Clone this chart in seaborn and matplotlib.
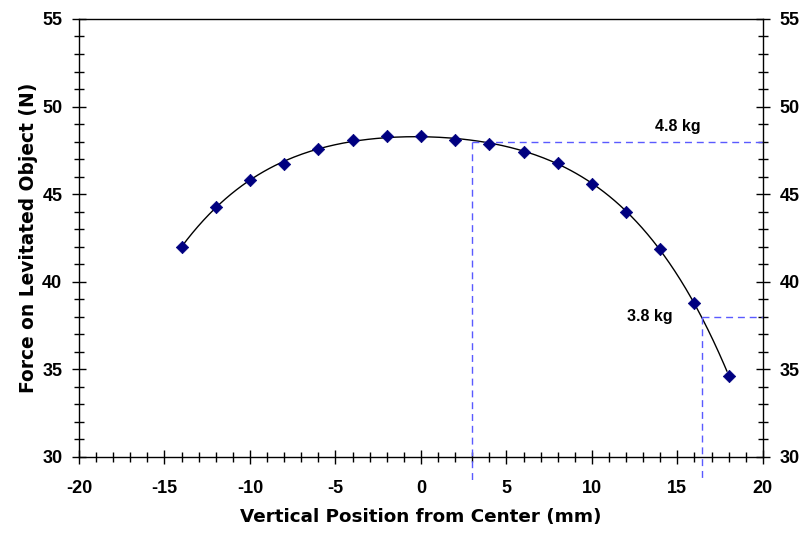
import matplotlib as mtl
mtl.use('Agg')
import numpy as np
import pandas as pd
import seaborn as sns
import matplotlib.pyplot as plt
import matplotlib.ticker as tic

position = [-14, -12, -10, -8, -6, -4, -2, 0, 2, 4, 6, 8, 10, 12, 14, 16, 18]
force = [42.0, 44.25, 45.8, 46.73, 47.58, 48.08, 48.33, 48.33, 48.1, 47.85,
         47.43, 46.76, 45.6, 43.97, 41.87, 38.77, 34.6]

# mass marker lines: (label, force level, position where curve crosses)
mass_labels = ['4.8 kg', '3.8 kg']
mass_force = [48.0, 38.0]
mass_pos = [3.0, 16.45]

sns.set_theme(style='white')
plt.rcParams['font.family'] = ['Liberation Sans', 'DejaVu Sans']
plt.rcParams['font.weight'] = 'bold'
plt.rcParams['text.color'] = 'black'
plt.rcParams['axes.labelcolor'] = 'black'
plt.rcParams['xtick.color'] = 'black'
plt.rcParams['ytick.color'] = 'black'
plt.rcParams['axes.unicode_minus'] = False

df = pd.DataFrame({'pos': position, 'force': force})

fig = plt.figure(figsize=(8.03, 5.35), dpi=100)
ax = fig.add_axes([0.0984, 0.1464, 0.8516, 0.8181])

# polynomial trendline through the data
coef = np.polyfit(df['pos'], df['force'], 4)
xs = np.linspace(df['pos'].min(), 17.9, 200)
sns.lineplot(x=xs, y=np.polyval(coef, xs), color='black', linewidth=1.0, ax=ax)
sns.scatterplot(data=df, x='pos', y='force', marker='D', s=40, color='#000080',
                edgecolor='#000080', linewidth=0.5, ax=ax, zorder=3)

dash = dict(color='#5a5aff', linewidth=1.0, linestyle=(0, (5, 3.5)), clip_on=False)
for lab, f, p in zip(mass_labels, mass_force, mass_pos):
    ax.plot([p, 20], [f, f], **dash)
    ax.plot([p, p], [f, 28.67], **dash)
ax.text(15.0, 48.84, mass_labels[0], fontsize=11.5, fontweight='bold', ha='center', va='center')
ax.text(13.4, 37.98, mass_labels[1], fontsize=11.5, fontweight='bold', ha='center', va='center')

ax.set_xlim(-20, 20)
ax.set_ylim(30, 55)
ax.xaxis.set_major_locator(tic.MultipleLocator(5))
ax.xaxis.set_minor_locator(tic.MultipleLocator(1))
ax.yaxis.set_major_locator(tic.MultipleLocator(5))
ax.yaxis.set_minor_locator(tic.MultipleLocator(1))
ax.tick_params(which='both', direction='inout', color='black', width=1,
               left=True, right=True, bottom=True, top=False,
               labelright=True, labelsize=13)
ax.tick_params(which='major', length=10)
ax.tick_params(which='minor', length=7)
ax.tick_params(axis='x', pad=12)
ax.tick_params(axis='y', pad=7)
for lbl in ax.get_xticklabels() + ax.get_yticklabels():
    lbl.set_fontweight('bold')
for s in ax.spines.values():
    s.set_color('black')
    s.set_linewidth(1.0)

# axis titles are wider than Arial in the source, DejaVu bold fits their extent
ax.set_xlabel('Vertical Position from Center (mm)', fontsize=13.2, fontweight='bold',
              family='DejaVu Sans', labelpad=8)
ax.set_ylabel('Force on Levitated Object (N)', fontsize=13.4, fontweight='bold',
              family='DejaVu Sans', labelpad=3)

fig.savefig('out.png', dpi=100)
